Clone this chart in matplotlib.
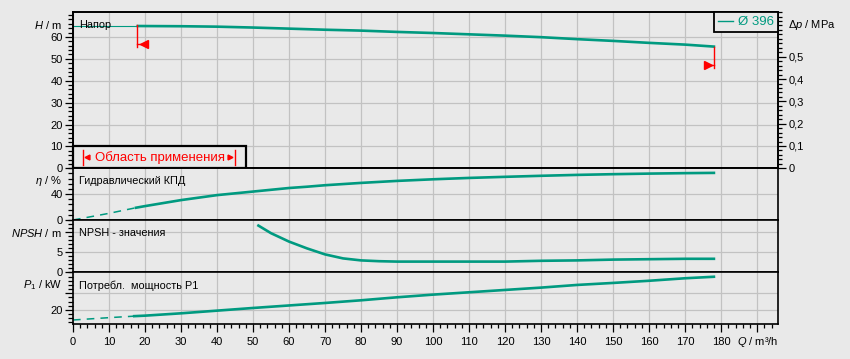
import numpy as np
import matplotlib
matplotlib.use("Agg")
import matplotlib.pyplot as plt
import matplotlib.ticker as mticker
from matplotlib.lines import Line2D
from matplotlib.patches import Rectangle

plt.rcParams['font.family'] = ['Liberation Sans', 'DejaVu Sans']
plt.rcParams['mathtext.fontset'] = 'custom'
plt.rcParams['mathtext.rm'] = 'Liberation Sans'
plt.rcParams['mathtext.it'] = 'Liberation Sans:italic'

# --- data ---
q_head = [0, 18, 30, 40, 50, 60, 70, 80, 90, 100, 110, 120, 130, 140, 150, 160, 170, 178]
head = [65.0, 65.0, 64.9, 64.7, 64.3, 63.8, 63.3, 62.9, 62.3, 61.8, 61.2, 60.6, 59.9, 59.0,
        58.2, 57.3, 56.5, 55.6]

q_eff = [0, 10, 17.5, 20, 30, 40, 50, 60, 65, 70, 80, 90, 100, 110, 120, 130, 140, 150,
         160, 170, 178]
eff = [0, 10.3, 19.0, 21.5, 30.8, 38.5, 44.0, 49.5, 51.5, 53.8, 57.4, 60.5, 63.0, 65.1,
       66.8, 68.4, 69.8, 70.9, 71.8, 72.5, 72.9]

q_npsh = [51.5, 55, 60, 65, 70, 75, 80, 85, 90, 100, 110, 120, 130, 140, 150, 160, 170, 178]
npsh = [11.6, 9.7, 7.6, 5.9, 4.4, 3.4, 2.9, 2.7, 2.6, 2.6, 2.6, 2.6, 2.8, 2.9, 3.1, 3.2, 3.3, 3.3]

q_pow = [0, 10, 17, 20, 30, 40, 50, 60, 70, 80, 90, 100, 110, 120, 130, 140, 150, 160, 170, 178]
power = [14.0, 15.4, 16.3, 16.6, 18.0, 19.6, 21.2, 22.7, 24.2, 25.8, 27.6, 29.2, 30.6, 32.0,
         33.4, 35.0, 36.2, 37.5, 39.0, 39.9]

q_low_end = 18       # end of the thin/dashed low-flow part
q_dash_end = 17.5
range_q_min = 17.9   # operating range limits
range_q_max = 177.9
impeller = 'Ø 396'

teal = '#009a80'
bg = '#e9e9e9'
grid_c = '#c2c2c2'
red = '#ff0000'

W, Hpx = 850, 359
fig = plt.figure(figsize=(W / 100, Hpx / 100), dpi=100)
fig.patch.set_facecolor(bg)


def px_rect(x0, y0, x1, y1):
    return [x0 / W, 1 - y1 / Hpx, (x1 - x0) / W, (y1 - y0) / Hpx]


ax_h = fig.add_axes(px_rect(73, 12, 778, 168.3))
ax_e = fig.add_axes(px_rect(73, 168.3, 778, 220))
ax_n = fig.add_axes(px_rect(73, 220, 778, 272))
ax_p = fig.add_axes(px_rect(73, 272, 778, 324))

tfs = 8  # tick label size
for ax in (ax_h, ax_e, ax_n, ax_p):
    ax.set_facecolor(bg)
    ax.set_xlim(0, 195.8)
    ax.xaxis.set_major_locator(mticker.FixedLocator(range(0, 191, 10)))
    ax.xaxis.set_minor_locator(mticker.MultipleLocator(2))
    ax.set_axisbelow(True)
    ax.grid(True, which='major', color=grid_c, linewidth=0.9)
    for s in ax.spines.values():
        s.set_color('black')
        s.set_linewidth(1.2)
    ax.tick_params(axis='y', which='major', direction='out', length=5.8, width=0.9,
                   pad=1.5, labelsize=tfs, colors='black')
    ax.tick_params(axis='y', which='minor', direction='out', length=3.4, width=0.9)
    if ax is not ax_p:
        ax.tick_params(axis='x', which='both', length=0, labelbottom=False)

ax_p.tick_params(axis='x', which='major', direction='out', length=5.5, width=0.9, pad=4,
                 labelsize=tfs)
ax_p.tick_params(axis='x', which='minor', direction='out', length=3.2, width=0.9)
ax_p.xaxis.set_major_formatter(mticker.FuncFormatter(lambda v, p: '' if v > 185 else f'{v:.0f}'))

# head panel
ax_h.set_ylim(0, 71.4)
ax_h.yaxis.set_major_locator(mticker.FixedLocator(range(0, 61, 10)))
ax_h.yaxis.set_minor_locator(mticker.MultipleLocator(2))
qh = np.array(q_head)
hh = np.array(head)
lo = qh <= q_low_end
hi = qh >= q_low_end
ax_h.plot(qh[lo], hh[lo], color=teal, lw=0.8)
ax_h.plot(qh[hi], hh[hi], color=teal, lw=1.9)

# operating range markers
h_min_end = np.interp(range_q_min, qh, hh)
h_max_end = np.interp(range_q_max, qh, hh)
ax_h.plot([range_q_min, range_q_min], [h_min_end + 0.5, 55.2], color=red, lw=1)
ax_h.plot([range_q_min, 19.5], [56.7, 56.7], color=red, lw=1)
ax_h.plot(19.6, 56.7, marker='<', color=red, markersize=5.5, linestyle='none')
ax_h.plot([range_q_max, range_q_max], [h_max_end, 45.7], color=red, lw=1)
ax_h.plot([176.3, range_q_max], [47.2, 47.2], color=red, lw=1)
ax_h.plot(176.4, 47.2, marker='>', color=red, markersize=5.5, linestyle='none')

# right axis (pressure)
ax_r = ax_h.twinx()
ax_r.set_ylim(0, 71.4 * 0.00981)
ax_r.yaxis.set_major_locator(mticker.FixedLocator([0, 0.1, 0.2, 0.3, 0.4, 0.5]))
ax_r.yaxis.set_minor_locator(mticker.MultipleLocator(0.02))
ax_r.yaxis.set_major_formatter(mticker.FuncFormatter(
    lambda v, p: '0' if v == 0 else f'{v:.1f}'.replace('.', ',')))
ax_r.tick_params(axis='y', which='major', direction='out', length=6, width=0.9, pad=2,
                 labelsize=tfs)
ax_r.tick_params(axis='y', which='minor', direction='out', length=3.2, width=0.9)
for s in ax_r.spines.values():
    s.set_color('black')
    s.set_linewidth(1.2)

leg = ax_r.legend(handles=[Line2D([], [], color=teal, lw=1)], labels=[impeller],
                  loc='upper right', bbox_to_anchor=(1, 1), borderaxespad=0,
                  frameon=True, fancybox=False, edgecolor='black', facecolor=bg,
                  framealpha=1, labelcolor=teal, fontsize=9.5, handlelength=1.2,
                  handletextpad=0.35, borderpad=0.3)
leg.get_frame().set_linewidth(1.3)

# "Область применения" box
ax_h.add_patch(Rectangle((0, 0), 0.2454, 0.1427, transform=ax_h.transAxes,
                         facecolor=bg, edgecolor='black', lw=1.6, zorder=3, clip_on=False))
ax_h.text(0.1227, 0.072, 'Область применения', transform=ax_h.transAxes, color=red,
          fontsize=9.5, ha='center', va='center', zorder=4)
for xb in (0.0138, 0.2298):
    ax_h.plot([xb, xb], [0.021, 0.117], transform=ax_h.transAxes, color=red, lw=1, zorder=4)
ax_h.plot(0.0195, 0.07, marker='<', color=red, markersize=3.5, transform=ax_h.transAxes,
          zorder=4)
ax_h.plot(0.2234, 0.07, marker='>', color=red, markersize=3.5, transform=ax_h.transAxes,
          zorder=4)

# efficiency panel
ax_e.set_ylim(0, 80)
ax_e.yaxis.set_major_locator(mticker.FixedLocator([0, 40]))
ax_e.yaxis.set_minor_locator(mticker.MultipleLocator(8))
qe = np.array(q_eff)
ee = np.array(eff)
ax_e.plot(qe[qe <= q_dash_end], ee[qe <= q_dash_end], color=teal, lw=1.1,
          linestyle=(0, (5, 4)))
ax_e.plot(qe[qe >= q_dash_end], ee[qe >= q_dash_end], color=teal, lw=1.9)

# NPSH panel
ax_n.set_ylim(0, 13)
ax_n.yaxis.set_major_locator(mticker.FixedLocator([0, 5, 10]))
ax_n.yaxis.set_minor_locator(mticker.MultipleLocator(1))
ax_n.yaxis.set_major_formatter(mticker.FuncFormatter(lambda v, p: '' if v > 7 else f'{v:.0f}'))
ax_n.plot(q_npsh, npsh, color=teal, lw=1.9)

# power panel
ax_p.set_ylim(11.6, 42.75)
ax_p.yaxis.set_major_locator(mticker.FixedLocator([20, 30]))
ax_p.yaxis.set_minor_locator(mticker.MultipleLocator(2.5))
ax_p.yaxis.set_major_formatter(mticker.FuncFormatter(lambda v, p: '' if v > 25 else f'{v:.0f}'))
qp = np.array(q_pow)
pp = np.array(power)
ax_p.plot(qp[qp <= q_dash_end], pp[qp <= q_dash_end], color=teal, lw=1.1,
          linestyle=(0, (5, 4)))
ax_p.plot(qp[qp >= 17], pp[qp >= 17], color=teal, lw=1.9)

# labels
fs = 7.8
fig.text(62 / W, 1 - 25 / Hpx, r'$H$ / m', ha='right', va='center', fontsize=8)
fig.text(62 / W, 1 - 181 / Hpx, r'$\eta$ / %', ha='right', va='center', fontsize=8)
fig.text(62 / W, 1 - 233 / Hpx, r'$NPSH$ / m', ha='right', va='center', fontsize=8)
fig.text(62 / W, 1 - 285.5 / Hpx, r'$P_1$ / kW', ha='right', va='center', fontsize=8)
fig.text(788 / W, 1 - 25 / Hpx, r'$\mathit{\Delta p}$ / MPa', ha='left', va='center',
         fontsize=8)
fig.text(778 / W, 1 - 342 / Hpx, r'$Q$ / m³/h', ha='right', va='center', fontsize=8)

fig.text(79 / W, 1 - 25 / Hpx, 'Напор', va='center', fontsize=fs)
fig.text(79 / W, 1 - 181 / Hpx, 'Гидравлический КПД', va='center', fontsize=fs)
fig.text(79 / W, 1 - 233 / Hpx, 'NPSH - значения', va='center', fontsize=fs)
fig.text(79 / W, 1 - 285.5 / Hpx, 'Потребл.  мощность P1', va='center', fontsize=fs)

fig.savefig('out.png', dpi=100, facecolor=bg)
